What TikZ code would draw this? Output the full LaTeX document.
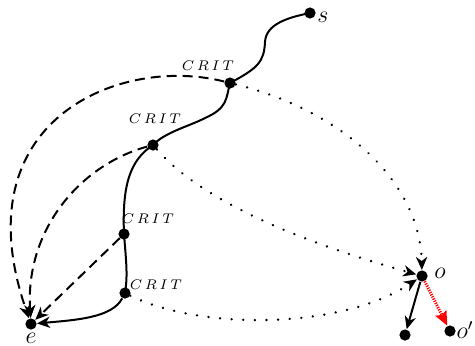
\documentclass[tikz,border=0pt]{standalone}
\usetikzlibrary{arrows.meta}
\newcommand{\critlabel}{{\fontsize{7.4}{8}\selectfont$C\hspace{1.3pt}R\hspace{1.3pt}I\hspace{1.3pt}T$}}
\begin{document}
\begin{tikzpicture}[x=0.5pt,y=-0.5pt,
  pt/.style={circle,fill=black,inner sep=0pt,minimum size=5.6pt},
  path/.style={line width=1pt},
  tip/.style={-{Stealth[length=6.5pt,width=5.6pt,inset=2pt]}},
  dashback/.style={line width=1pt,dash pattern=on 5pt off 3pt,tip},
  dotfwd/.style={line width=1.3pt,dash pattern=on 0.01pt off 5.8pt,line cap=round,tip},
  crit/.style={inner sep=0pt},
  lbl/.style={inner sep=0pt,font=\large}]
\useasboundingbox (0,0) rectangle (475,345);

% states along the trajectory
\node[pt] (s) at (310,13) {};
\node[pt] (c1) at (230,83) {};
\node[pt] (c2) at (153,145) {};
\node[pt] (c3) at (124,234) {};
\node[pt] (c4) at (125,293) {};
\node[pt] (e) at (31,324) {};
\node[pt] (o) at (422,276) {};
\node[pt] (d) at (405,335) {};
\node[pt] (op) at (450,331) {};

% labels
\node[lbl] at (323,17) {$s$};
\node[lbl] at (31,338) {$e$};
\node[lbl] at (440,273) {$o$};
\node[lbl] at (465,330) {$o'$};
\node[crit] at (208,66) {\critlabel};
\node[crit] at (155,119) {\critlabel};
\node[crit] at (148,219) {\critlabel};
\node[crit] at (156,285) {\critlabel};

% the trajectory itself
\draw[path] (s.center) .. controls (285,18) and (266,25) .. (265,42)
  .. controls (264,62) and (258,68) .. (c1.center);
\draw[path] (c1.center) .. controls (226,98) and (228,108) .. (205,118)
  .. controls (190,126) and (165,132) .. (c2.center);
\draw[path] (c2.center) .. controls (130,160) and (122,185) .. (c3.center);
\draw[path] (c3.center) .. controls (126,260) and (128,275) .. (c4.center);
\draw[path,tip] (c4) .. controls (112,318) and (75,320) .. (e);

% backward jumps to the end state
\draw[dashback] (c1) .. controls (120,55) and (-40,120) .. (e);
\draw[dashback] (c2) .. controls (80,165) and (25,230) .. (e);
\draw[dashback] (c3) -- (e);

% forward jumps to o
\draw[dotfwd] (c1) .. controls (340,110) and (420,180) .. (o);
\draw[dotfwd] (c2) .. controls (210,210) and (330,250) .. (o);
\draw[dotfwd] (c4) .. controls (200,330) and (340,330) .. (o);

% successors of o
\draw[path,tip] (o) -- (d);
\draw[red,line width=1.5pt,dash pattern=on 0.6pt off 0.6pt,
  -{Stealth[length=7pt,width=6pt,inset=1pt]}] (o) -- (op);
\end{tikzpicture}
\end{document}
